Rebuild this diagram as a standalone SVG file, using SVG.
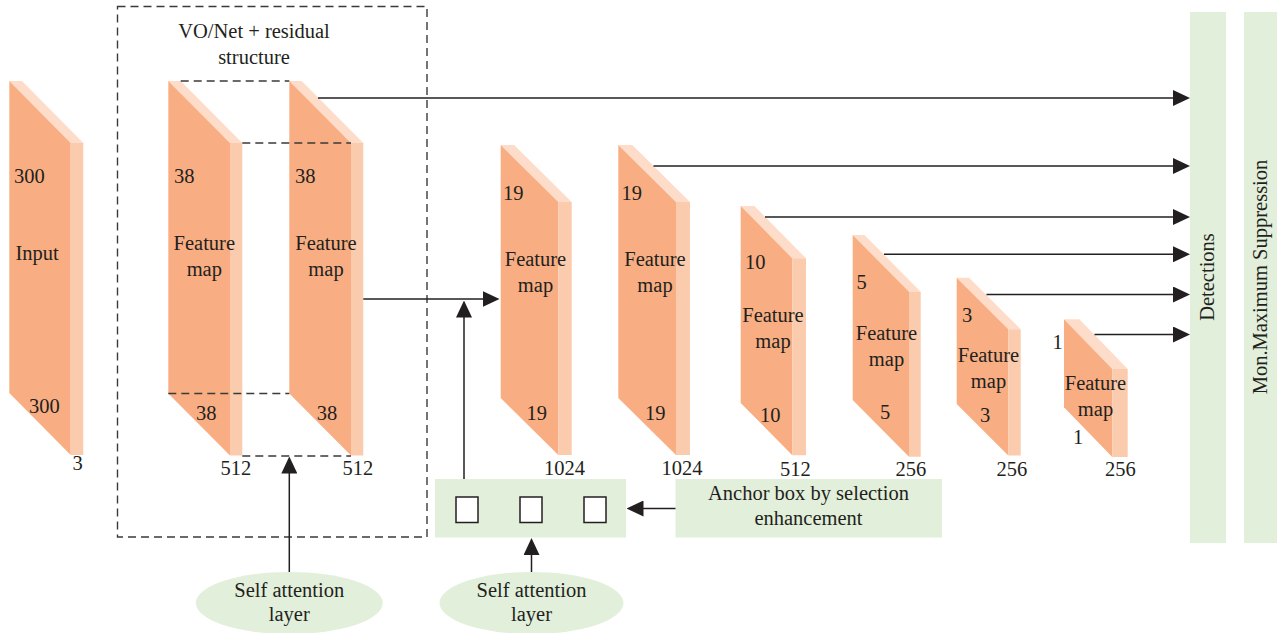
<svg xmlns="http://www.w3.org/2000/svg" width="1277" height="633" viewBox="0 0 1277 633" font-family="'Liberation Serif', 'DejaVu Serif', serif">
  <defs>
    <style>
      text { font-family: "Liberation Serif", "DejaVu Serif", serif; font-size: 20.5px; fill: #231F20; }
      .mid { text-anchor: middle; }
      .front { fill: #F8AE82; }
      .side { fill: #FBCBAD; }
      .top { fill: #FDDDCA; }
      .green { fill: #E2EFDA; }
      .dash { fill: none; stroke: #3A3A3A; stroke-width: 1.4; stroke-dasharray: 8 5; }
      .link { fill: none; stroke: #231F20; stroke-width: 1.5; marker-end: url(#head); }
      .slot { fill: #FFFFFF; stroke: #231F20; stroke-width: 1.5; }
    </style>
    <marker id="head" viewBox="0 0 17 16" refX="7" refY="8" markerWidth="17" markerHeight="16" markerUnits="userSpaceOnUse" orient="auto">
      <path d="M0,0 L17,8 L0,16 Z" fill="#231F20"/>
    </marker>
  </defs>

  <rect width="1277" height="633" fill="#FFFFFF"/>

  <!-- backbone frame -->
  <g id="backbone-frame">
    <rect class="dash" x="117.5" y="6.5" width="309.5" height="530.5"/>
    <text class="mid" x="254" y="38">VO/Net + residual</text>
    <text class="mid" x="254" y="64">structure</text>
  </g>

  <!-- input slab -->
  <g id="input">
    <polygon class="top" points="9.3,81 22,81 83.3,143 70.7,143"/>
    <polygon class="front" points="9.3,81 70.7,143 70.7,455 9.3,393"/>
    <polygon class="side" points="70.7,143 83.3,143 83.3,455 70.7,455"/>
    <text x="14" y="183">300</text>
    <text x="15.5" y="260">Input</text>
    <text x="29" y="413">300</text>
    <text x="72.5" y="470">3</text>
  </g>

  <!-- 38x38 feature maps -->
  <g id="fmap-38a">
    <polygon class="top" points="168.3,81 180.7,81 242.3,143 230,143"/>
    <polygon class="front" points="168.3,81 230,143 230,455.5 168.3,393.5"/>
    <polygon class="side" points="230,143 242.3,143 242.3,455.5 230,455.5"/>
    <text x="174" y="183">38</text>
    <text class="mid" x="204.3" y="250">Feature</text>
    <text class="mid" x="204.3" y="276">map</text>
    <text x="196" y="420">38</text>
    <text x="220.5" y="475">512</text>
  </g>

  <g id="fmap-38b">
    <polygon class="top" points="289.3,81 301.7,81 363.3,143 351,143"/>
    <polygon class="front" points="289.3,81 351,143 351,455.5 289.3,393.5"/>
    <polygon class="side" points="351,143 363.3,143 363.3,455.5 351,455.5"/>
    <text x="295" y="183">38</text>
    <text class="mid" x="326" y="250">Feature</text>
    <text class="mid" x="326" y="276">map</text>
    <text x="316.7" y="420">38</text>
    <text x="342.5" y="475">512</text>
  </g>

  <!-- box edges joining the two 38x38 maps -->
  <g id="residual-box">
    <line class="dash" x1="180.7" y1="81" x2="289.3" y2="81"/>
    <line class="dash" x1="242.3" y1="143" x2="351" y2="143"/>
    <line class="dash" x1="168.3" y1="393.5" x2="289.3" y2="393.5"/>
    <line class="dash" x1="242.3" y1="456" x2="351" y2="456"/>
  </g>

  <!-- 19x19 feature maps -->
  <g id="fmap-19a">
    <polygon class="top" points="500.7,145 514.1,145 571.7,202 558.3,202"/>
    <polygon class="front" points="500.7,145 558.3,202 558.3,455 500.7,398"/>
    <polygon class="side" points="558.3,202 571.7,202 571.7,455 558.3,455"/>
    <text x="503" y="200">19</text>
    <text class="mid" x="535.5" y="266">Feature</text>
    <text class="mid" x="535.5" y="292">map</text>
    <text x="526.5" y="420">19</text>
    <text x="544" y="475">1024</text>
  </g>

  <g id="fmap-19b">
    <polygon class="top" points="618.3,145 632.3,145 690,202 676,202"/>
    <polygon class="front" points="618.3,145 676,202 676,455 618.3,398"/>
    <polygon class="side" points="676,202 690,202 690,455 676,455"/>
    <text x="621.5" y="200">19</text>
    <text class="mid" x="655" y="266">Feature</text>
    <text class="mid" x="655" y="292">map</text>
    <text x="645" y="420">19</text>
    <text x="661.5" y="475">1024</text>
  </g>

  <!-- 10x10 -->
  <g id="fmap-10">
    <polygon class="top" points="740.7,206 754.4,206 806,258.3 792.3,258.3"/>
    <polygon class="front" points="740.7,206 792.3,258.3 792.3,455.3 740.7,403"/>
    <polygon class="side" points="792.3,258.3 806,258.3 806,455.3 792.3,455.3"/>
    <text x="745" y="269">10</text>
    <text class="mid" x="773" y="322">Feature</text>
    <text class="mid" x="773" y="348">map</text>
    <text x="760" y="422">10</text>
    <text x="780" y="476">512</text>
  </g>

  <!-- 5x5 -->
  <g id="fmap-5">
    <polygon class="top" points="852.7,235 864.4,235 920.7,291.7 909,291.7"/>
    <polygon class="front" points="852.7,235 909,291.7 909,456.7 852.7,400"/>
    <polygon class="side" points="909,291.7 920.7,291.7 920.7,456.7 909,456.7"/>
    <text x="856.5" y="289">5</text>
    <text class="mid" x="886.5" y="340">Feature</text>
    <text class="mid" x="886.5" y="366">map</text>
    <text x="880" y="419">5</text>
    <text x="895.5" y="476">256</text>
  </g>

  <!-- 3x3 -->
  <g id="fmap-3">
    <polygon class="top" points="956.7,277.7 969.1,277.7 1020.7,329.3 1008.3,329.3"/>
    <polygon class="front" points="956.7,277.7 1008.3,329.3 1008.3,455.6 956.7,404"/>
    <polygon class="side" points="1008.3,329.3 1020.7,329.3 1020.7,455.6 1008.3,455.6"/>
    <text x="962" y="322">3</text>
    <text class="mid" x="988.5" y="362">Feature</text>
    <text class="mid" x="988.5" y="388">map</text>
    <text x="980" y="422">3</text>
    <text x="996.5" y="476">256</text>
  </g>

  <!-- 1x1 -->
  <g id="fmap-1">
    <polygon class="top" points="1064,319.3 1079.4,319.3 1127.7,369 1112.3,369"/>
    <polygon class="front" points="1064,319.3 1112.3,369 1112.3,457 1064,407.3"/>
    <polygon class="side" points="1112.3,369 1127.7,369 1127.7,457 1112.3,457"/>
    <text x="1052.5" y="349">1</text>
    <text class="mid" x="1095.5" y="390">Feature</text>
    <text class="mid" x="1095.5" y="416">map</text>
    <text x="1073" y="444">1</text>
    <text x="1105" y="476">256</text>
  </g>

  <!-- output stages -->
  <g id="detections">
    <rect class="green" x="1190" y="12" width="36" height="531"/>
    <text class="mid" transform="translate(1214,277) rotate(-90)">Detections</text>
  </g>

  <g id="nms">
    <rect class="green" x="1244" y="12" width="33" height="531"/>
    <text class="mid" transform="translate(1267,277) rotate(-90)">Mon.Maximum Suppression</text>
  </g>

  <!-- anchor boxes -->
  <g id="anchor-boxes">
    <rect class="green" x="435" y="479" width="191" height="58.5"/>
    <rect class="slot" x="456" y="497" width="22" height="25.5"/>
    <rect class="slot" x="520" y="497" width="22" height="25.5"/>
    <rect class="slot" x="584" y="497" width="22" height="25.5"/>
  </g>

  <g id="anchor-selection">
    <rect class="green" x="675.5" y="479" width="266.5" height="58.5"/>
    <text class="mid" x="808.5" y="500">Anchor box by selection</text>
    <text class="mid" x="808.5" y="525">enhancement</text>
  </g>

  <!-- attention layers -->
  <g id="attention-1">
    <ellipse class="green" cx="289.3" cy="603" rx="93.5" ry="31"/>
    <text class="mid" x="289.3" y="597">Self attention</text>
    <text class="mid" x="289.3" y="621">layer</text>
  </g>

  <g id="attention-2">
    <ellipse class="green" cx="531.5" cy="603" rx="92" ry="31"/>
    <text class="mid" x="531.5" y="597">Self attention</text>
    <text class="mid" x="531.5" y="621">layer</text>
  </g>

  <!-- connectors -->
  <g id="connectors">
    <path class="link" d="M318,98 H1180"/>
    <path class="link" d="M653.5,166 H1180"/>
    <path class="link" d="M765,217 H1180"/>
    <path class="link" d="M884,254.3 H1180"/>
    <path class="link" d="M986.5,294.5 H1180"/>
    <path class="link" d="M1094.5,334.5 H1180"/>
    <path class="link" d="M363.3,299 H489.5"/>
    <path class="link" d="M464,479 V310.5"/>
    <path class="link" d="M289.3,572 V466.5"/>
    <path class="link" d="M531.5,572 V548"/>
    <path class="link" d="M675.5,508.5 H636.5"/>
  </g>
</svg>
